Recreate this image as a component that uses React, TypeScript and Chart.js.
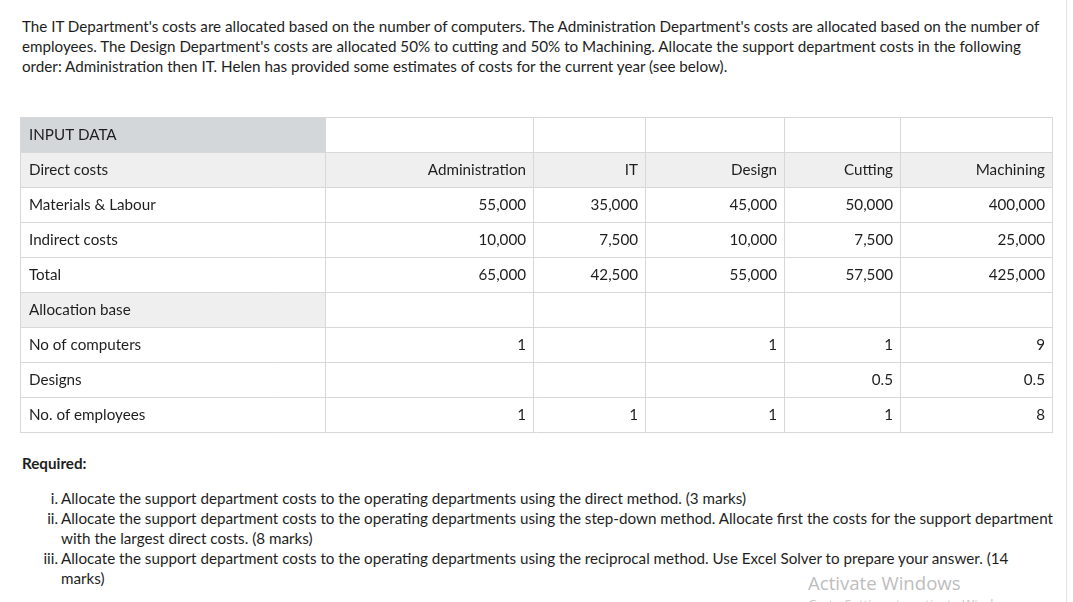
import React, { useEffect, useRef } from "react";
import { Chart, registerables } from "chart.js";

Chart.register(...registerables);

// ---- data ----
const columns = ["Administration", "IT", "Design", "Cutting", "Machining"];
const rowLabels = [
  "INPUT DATA",
  "Direct costs",
  "Materials & Labour",
  "Indirect costs",
  "Total",
  "Allocation base",
  "No of computers",
  "Designs",
  "No. of employees",
];
const materialsLabour = [55000, 35000, 45000, 50000, 400000];
const indirectCosts = [10000, 7500, 10000, 7500, 25000];
const totalCosts = [65000, 42500, 55000, 57500, 425000];
const noOfComputers: (number | null)[] = [1, null, 1, 1, 9];
const designs: (number | null)[] = [null, null, null, 0.5, 0.5];
const noOfEmployees: (number | null)[] = [1, 1, 1, 1, 8];

const introLines = [
  "The IT Department's costs are allocated based on the number of computers. The Administration Department's costs are allocated based on the number of",
  "employees. The Design Department's costs are allocated 50% to cutting and 50% to Machining. Allocate the support department costs in the following",
  "order: Administration then IT. Helen has provided some estimates of costs for the current year (see below).",
];
const requiredItems: { num: string; lines: string[] }[] = [
  { num: "i.", lines: ["Allocate the support department costs to the operating departments using the direct method. (3 marks)"] },
  {
    num: "ii.",
    lines: [
      "Allocate the support department costs to the operating departments using the step-down method. Allocate first the costs for the support department",
      "with the largest direct costs. (8 marks)",
    ],
  },
  {
    num: "iii.",
    lines: [
      "Allocate the support department costs to the operating departments using the reciprocal method. Use Excel Solver to prepare your answer. (14",
      "marks)",
    ],
  },
];

// ---- layout ----
const colEdges = [0, 305, 513, 625, 764, 880, 1032];
const ROW_H = 35;
const FONT = "Lato, 'Source Sans Pro', sans-serif";
const FS = 15.2;

function fmt(v: number | null): string {
  if (v === null || v === undefined) return "";
  if (Math.abs(v) >= 1000) return v.toLocaleString("en-US");
  return String(v);
}

const tableRows: (string[] | null)[] = [
  ["", "", "", "", ""],
  columns,
  materialsLabour.map(fmt),
  indirectCosts.map(fmt),
  totalCosts.map(fmt),
  ["", "", "", "", ""],
  noOfComputers.map(fmt),
  designs.map(fmt),
  noOfEmployees.map(fmt),
];

const tablePlugin = {
  id: "tableDraw",
  afterDraw(chart: any) {
    const ctx: CanvasRenderingContext2D = chart.ctx;
    ctx.save();
    const nRows = rowLabels.length;
    for (let r = 0; r < nRows; r++) {
      const y = r * ROW_H;
      for (let c = 0; c < colEdges.length - 1; c++) {
        let fill = "#ffffff";
        if (r === 0 && c === 0) fill = "#d3d7da";
        else if (r === 1) fill = "#efefef";
        else if (r === 5 && c === 0) fill = "#efefef";
        ctx.fillStyle = fill;
        ctx.fillRect(colEdges[c], y, colEdges[c + 1] - colEdges[c], ROW_H);
      }
    }
    ctx.strokeStyle = "#d8d8d8";
    ctx.lineWidth = 1;
    ctx.beginPath();
    for (let r = 0; r <= nRows; r++) {
      const y = r * ROW_H + 0.5;
      ctx.moveTo(0, y);
      ctx.lineTo(colEdges[colEdges.length - 1] + 1, y);
    }
    for (const x of colEdges) {
      ctx.moveTo(x + 0.5, 0);
      ctx.lineTo(x + 0.5, nRows * ROW_H + 1);
    }
    ctx.stroke();
    ctx.font = `${FS}px ${FONT}`;
    ctx.fillStyle = "#1e1e1e";
    ctx.textBaseline = "alphabetic";
    for (let r = 0; r < nRows; r++) {
      const by = r * ROW_H + 23;
      ctx.textAlign = "left";
      ctx.fillText(rowLabels[r], 9, by);
      const vals = tableRows[r] || [];
      ctx.textAlign = "right";
      for (let c = 0; c < vals.length; c++) {
        if (vals[c]) ctx.fillText(vals[c], colEdges[c + 2] - 7, by);
      }
    }
    ctx.restore();
  },
};

function TableChart() {
  const ref = useRef<HTMLCanvasElement | null>(null);
  useEffect(() => {
    if (!ref.current) return;
    const chart = new Chart(ref.current, {
      type: "scatter",
      data: { datasets: [] },
      options: {
        animation: false,
        responsive: false,
        devicePixelRatio: 1,
        events: [],
        layout: { padding: 0 },
        scales: { x: { display: false }, y: { display: false } },
        plugins: { legend: { display: false }, tooltip: { enabled: false } },
      },
      plugins: [tablePlugin],
    });
    return () => chart.destroy();
  }, []);
  return (
    <canvas
      ref={ref}
      width={1034}
      height={317}
      style={{ position: "absolute", left: 20, top: 117, width: 1034, height: 317 }}
    />
  );
}

export default function App() {
  const textStyle: React.CSSProperties = {
    fontFamily: FONT,
    fontSize: FS,
    lineHeight: "20px",
    color: "#1e1e1e",
    whiteSpace: "nowrap",
  };
  return (
    <div
      style={{
        position: "absolute",
        left: 0,
        top: 0,
        width: 1073,
        height: 602,
        overflow: "hidden",
        background: "#fff",
      }}
    >
      <div style={{ ...textStyle, position: "absolute", left: 22, top: 16 }}>
        {introLines.map((l, i) => (
          <div key={i}>{l}</div>
        ))}
      </div>
      <TableChart />
      <div style={{ ...textStyle, position: "absolute", left: 22, top: 453, fontWeight: 700 }}>Required:</div>
      <div style={{ position: "absolute", left: 0, top: 488 }}>
        {(() => {
          const out: React.ReactNode[] = [];
          let row = 0;
          requiredItems.forEach((it, i) => {
            it.lines.forEach((line, j) => {
              out.push(
                <div key={`${i}-${j}`} style={{ ...textStyle, position: "absolute", top: row * 20, left: 0, height: 20 }}>
                  {j === 0 && (
                    <span style={{ position: "absolute", left: 0, width: 58, textAlign: "right" }}>{it.num}</span>
                  )}
                  <span style={{ position: "absolute", left: 61 }}>{line}</span>
                </div>
              );
              row++;
            });
          });
          return out;
        })()}
      </div>
      <div
        style={{
          position: "absolute",
          left: 808,
          top: 571,
          fontFamily: "'Open Sans', sans-serif",
          fontSize: 18.6,
          lineHeight: "24px",
          color: "#bdbdbd",
          whiteSpace: "nowrap",
        }}
      >
        Activate Windows
      </div>
      <div
        style={{
          position: "absolute",
          left: 808,
          top: 595,
          fontFamily: "'Open Sans', sans-serif",
          fontSize: 13,
          lineHeight: "18px",
          color: "#c8c8c8",
          whiteSpace: "nowrap",
        }}
      >
        Go to Settings to activate Windows.
      </div>
      <div style={{ position: "absolute", left: 1066, top: 0, width: 1, height: 602, background: "#e4e4e4" }} />
    </div>
  );
}
